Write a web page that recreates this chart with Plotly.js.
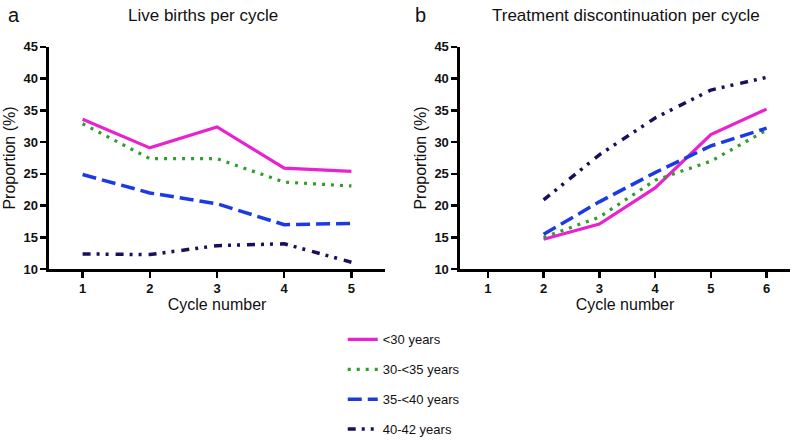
<!DOCTYPE html>
<html>
<head>
<meta charset="utf-8">
<script src="https://cdn.plot.ly/plotly-2.35.2.min.js"></script>
<style>html,body{margin:0;padding:0;background:#fff;}#chart{width:798px;height:442px;}</style>
</head>
<body>
<div id="chart"></div>
<script>
const seriesNames = ["<30 years", "30-<35 years", "35-<40 years", "40-42 years"];
const birthCycles = [1, 2, 3, 4, 5];
const birthUnder30 = [33.6, 29.1, 32.4, 25.9, 25.4];
const birth30to35 = [32.9, 27.4, 27.4, 23.7, 23.1];
const birth35to40 = [24.9, 22.0, 20.3, 17.0, 17.2];
const birth40to42 = [12.4, 12.3, 13.7, 14.0, 11.1];

const discCycles = [2, 3, 4, 5, 6];
const discUnder30 = [14.7, 17.1, 22.8, 31.2, 35.2];
const disc30to35 = [15.0, 18.2, 24.0, 27.0, 31.9];
const disc35to40 = [15.5, 20.6, 25.2, 29.4, 32.2];
const disc40to42 = [20.9, 28.0, 33.8, 38.2, 40.2];

const xTicksLeft = [1, 2, 3, 4, 5];
const xTicksRight = [1, 2, 3, 4, 5, 6];
const yTicks = [10, 15, 20, 25, 30, 35, 40, 45];

const styles = [
  {color: "#e822cf", width: 3.2, dash: "solid"},
  {color: "#2f9e2a", width: 3.2, dash: "3px,6px"},
  {color: "#1c3ae4", width: 3.5, dash: "14px,6px"},
  {color: "#1d0e5c", width: 3.5, dash: "8px,6px,3px,6px,3px,7px"}
];

const leftData = [birthUnder30, birth30to35, birth35to40, birth40to42];
const rightData = [discUnder30, disc30to35, disc35to40, disc40to42];

const traces = [];
leftData.forEach((ys, i) => traces.push({
  x: birthCycles, y: ys, type: "scatter", mode: "lines", name: seriesNames[i],
  line: styles[i], xaxis: "x", yaxis: "y", legendgroup: "g" + i, showlegend: true
}));
rightData.forEach((ys, i) => traces.push({
  x: discCycles, y: ys, type: "scatter", mode: "lines", name: seriesNames[i],
  line: styles[i], xaxis: "x2", yaxis: "y2", legendgroup: "g" + i, showlegend: false
}));

const font = "Liberation Sans, Arial, sans-serif";
function xAxis(domain, range, ticks, anchor) {
  return {
    domain: domain, range: range, anchor: anchor, tickvals: ticks, ticktext: ticks.map(String),
    automargin: false,
    showgrid: false, zeroline: false, showline: true, linecolor: "#000", linewidth: 2.5,
    ticks: "outside", ticklen: 6, tickwidth: 2.5, tickcolor: "#000",
    tickfont: {family: font, size: 13, color: "#111", weight: "bold"},
    title: {text: "Cycle number", font: {family: font, size: 16, color: "#111"}, standoff: 4},
    fixedrange: true
  };
}
function yAxis(anchor) {
  return {
    domain: [0.391, 0.894], range: [10, 45], anchor: anchor, tickvals: yTicks, ticktext: yTicks.map(String),
    automargin: false,
    showgrid: false, zeroline: false, showline: true, linecolor: "#000", linewidth: 2.5,
    ticks: "outside", ticklen: 6, tickwidth: 2.5, tickcolor: "#000",
    tickfont: {family: font, size: 13, color: "#111", weight: "bold"},
    title: {text: "Proportion (%)", font: {family: font, size: 16, color: "#111"}, standoff: 4},
    fixedrange: true
  };
}

const layout = {
  width: 798, height: 442,
  margin: {l: 0, r: 0, t: 0, b: 0, autoexpand: false},
  paper_bgcolor: "#fff", plot_bgcolor: "#fff",
  font: {family: font, color: "#111"},
  xaxis: xAxis([0.0614, 0.4825], [0.5, 5.5], xTicksLeft, "y"),
  yaxis: yAxis("x"),
  xaxis2: xAxis([0.5764, 0.99], [0.5, 6.42], xTicksRight, "y2"),
  yaxis2: yAxis("x2"),
  showlegend: true,
  legend: {
    x: 0.4295, xanchor: "left", y: 0.266, yanchor: "top",
    font: {family: font, size: 13, color: "#111"},
    tracegroupgap: 10, bgcolor: "rgba(0,0,0,0)", itemwidth: 30
  },
  annotations: [
    {text: "a", x: 0.008, y: 0.966, xref: "paper", yref: "paper", xanchor: "left", yanchor: "middle", showarrow: false, font: {family: font, size: 20, color: "#111"}},
    {text: "Live births per cycle", x: 203/798, y: 0.965, xref: "paper", yref: "paper", xanchor: "center", yanchor: "middle", showarrow: false, font: {family: font, size: 17, color: "#111"}},
    {text: "b", x: 413/798, y: 0.966, xref: "paper", yref: "paper", xanchor: "left", yanchor: "middle", showarrow: false, font: {family: font, size: 20, color: "#111"}},
    {text: "Treatment discontinuation per cycle", x: 626/798, y: 0.965, xref: "paper", yref: "paper", xanchor: "center", yanchor: "middle", showarrow: false, font: {family: font, size: 17, color: "#111"}}
  ]
};

Plotly.newPlot("chart", traces, layout, {staticPlot: true, displayModeBar: false});
</script>
</body>
</html>
